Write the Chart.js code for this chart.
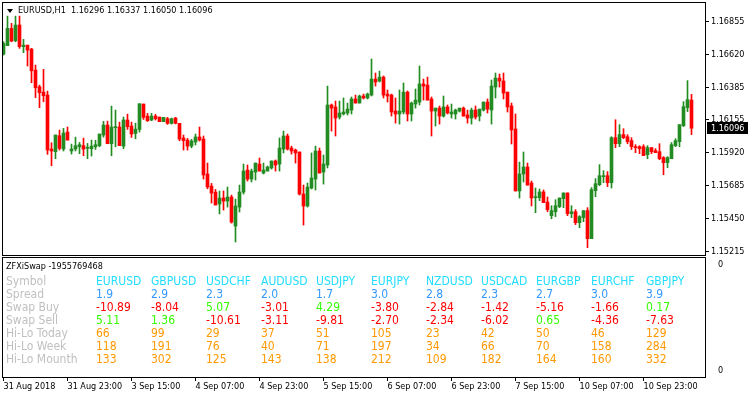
<!DOCTYPE html>
<html>
<head>
<meta charset="utf-8">
<script src="https://cdn.jsdelivr.net/npm/chart.js@4.4.1/dist/chart.umd.min.js"></script>
<style>
  html, body { margin: 0; padding: 0; background: #fff; }
  #wrap { position: relative; width: 748px; height: 398px; overflow: hidden; font-family: "DejaVu Sans Condensed", "DejaVu Sans", sans-serif; }
  canvas { position: absolute; left: 0; }
  #priceChart { top: 0; }
  #subChart { top: 256px; }
  .hdr { position: absolute; font-size: 9px; line-height: 11px; color: #000; white-space: pre; }
  .tri { position: absolute; left: 7px; top: 9px; width: 0; height: 0; border-left: 3px solid transparent; border-right: 3px solid transparent; border-top: 4px solid #000; }
  .cell { position: absolute; font-size: 12px; line-height: 13px; white-space: nowrap; }
</style>
</head>
<body>
<div id="wrap">
  <canvas id="priceChart" width="748" height="258"></canvas>
  <canvas id="subChart" width="748" height="142"></canvas>
  <div class="tri"></div>
  <div class="hdr" id="mainTitle" style="left:18px; top:5px;"></div>
  <div class="hdr" id="subTitle" style="left:6px; top:261px;"></div>
  <div id="table"></div>
</div>
<script>
// EURUSD H1 candles, 31 Aug 07:00 .. 11 Sep 11:00
const opens = [
  1.16624, 1.16684, 1.16807, 1.16719, 1.16831, 1.16677, 1.16688, 1.16660, 1.16510, 1.16391,
  1.16353, 1.16332, 1.15947, 1.15928, 1.16042, 1.15947, 1.16068, 1.15933, 1.15947, 1.15963,
  1.15971, 1.15952, 1.15949, 1.15963, 1.15971, 1.16047, 1.16118, 1.15985, 1.16099, 1.16104,
  1.15968, 1.16154, 1.16111, 1.16058, 1.16087, 1.16268, 1.16182, 1.16154, 1.16182, 1.16175,
  1.16142, 1.16163, 1.16130, 1.16168, 1.16130, 1.16026, 1.16011, 1.15968, 1.15997, 1.16033,
  1.16018, 1.15769, 1.15683, 1.15640, 1.15555, 1.15598, 1.15576, 1.15605, 1.15398, 1.15533,
  1.15640, 1.15797, 1.15733, 1.15783, 1.15840, 1.15776, 1.15790, 1.15812, 1.15862, 1.15840,
  1.15947, 1.16040, 1.15954, 1.15940, 1.15926, 1.15626, 1.15541, 1.15669, 1.15733, 1.15933,
  1.15783, 1.15833, 1.16261, 1.16247, 1.16175, 1.16197, 1.16204, 1.16225, 1.16304, 1.16275,
  1.16325, 1.16311, 1.16332, 1.16446, 1.16432, 1.16460, 1.16339, 1.16332, 1.16218, 1.16197,
  1.16211, 1.16353, 1.16197, 1.16268, 1.16282, 1.16411, 1.16403, 1.16304, 1.16218, 1.16239,
  1.16182, 1.16247, 1.16197, 1.16197, 1.16218, 1.16239, 1.16190, 1.16168, 1.16225, 1.16182,
  1.16225, 1.16282, 1.16225, 1.16389, 1.16453, 1.16432, 1.16353, 1.16254, 1.16090, 1.15648,
  1.15769, 1.15819, 1.15705, 1.15600, 1.15600, 1.15641, 1.15569, 1.15472, 1.15500, 1.15536,
  1.15593, 1.15634, 1.15486, 1.15500, 1.15422, 1.15458, 1.15508, 1.15308, 1.15650, 1.15693,
  1.15750, 1.15757, 1.15707, 1.16028, 1.15985, 1.16050, 1.16035, 1.16007, 1.15964, 1.15964,
  1.15964, 1.15907, 1.15957, 1.15936, 1.15928, 1.15886, 1.15850, 1.15878, 1.15971, 1.16000,
  1.16114, 1.16242, 1.16296
];
const highs = [
  1.16712, 1.16895, 1.16843, 1.16895, 1.16895, 1.16729, 1.16688, 1.16665, 1.16546, 1.16403,
  1.16515, 1.16360, 1.15992, 1.16047, 1.16082, 1.16094, 1.16104, 1.15982, 1.16032, 1.15994,
  1.16025, 1.15987, 1.16011, 1.16009, 1.16054, 1.16144, 1.16146, 1.16253, 1.16225, 1.16139,
  1.16175, 1.16196, 1.16139, 1.16132, 1.16270, 1.16268, 1.16201, 1.16201, 1.16194, 1.16175,
  1.16173, 1.16173, 1.16168, 1.16173, 1.16130, 1.16047, 1.16023, 1.16016, 1.16054, 1.16104,
  1.16040, 1.15847, 1.15702, 1.15659, 1.15648, 1.15648, 1.15676, 1.15619, 1.15590, 1.15690,
  1.15840, 1.15833, 1.15804, 1.15847, 1.15883, 1.15847, 1.15826, 1.15862, 1.15869, 1.16026,
  1.16075, 1.16054, 1.15968, 1.15947, 1.15926, 1.15690, 1.15705, 1.15919, 1.15968, 1.15954,
  1.15904, 1.16396, 1.16268, 1.16289, 1.16289, 1.16311, 1.16275, 1.16318, 1.16332, 1.16332,
  1.16339, 1.16346, 1.16589, 1.16489, 1.16503, 1.16468, 1.16368, 1.16339, 1.16311, 1.16368,
  1.16418, 1.16361, 1.16282, 1.16375, 1.16539, 1.16446, 1.16460, 1.16318, 1.16239, 1.16254,
  1.16325, 1.16261, 1.16268, 1.16232, 1.16239, 1.16247, 1.16225, 1.16239, 1.16254, 1.16232,
  1.16282, 1.16304, 1.16439, 1.16489, 1.16482, 1.16489, 1.16353, 1.16275, 1.16197, 1.15854,
  1.15926, 1.15847, 1.15719, 1.15669, 1.15662, 1.15655, 1.15605, 1.15543, 1.15586, 1.15598,
  1.15634, 1.15634, 1.15543, 1.15515, 1.15472, 1.15508, 1.15529, 1.15672, 1.15736, 1.15836,
  1.15793, 1.15786, 1.16035, 1.16156, 1.16121, 1.16092, 1.16050, 1.16028, 1.15978, 1.15971,
  1.15978, 1.15971, 1.15957, 1.15950, 1.15985, 1.15893, 1.15893, 1.15993, 1.16021, 1.16121,
  1.16285, 1.16435, 1.16337
];
const lows = [
  1.16617, 1.16684, 1.16712, 1.16712, 1.16665, 1.16634, 1.16539, 1.16420, 1.16313, 1.16242,
  1.16284, 1.15909, 1.15828, 1.15878, 1.15940, 1.15933, 1.16011, 1.15911, 1.15933, 1.15914,
  1.15899, 1.15878, 1.15897, 1.15944, 1.15963, 1.16032, 1.15985, 1.15899, 1.15963, 1.15971,
  1.15949, 1.16087, 1.16030, 1.16020, 1.16068, 1.16158, 1.16144, 1.16149, 1.16154, 1.16142,
  1.16142, 1.16123, 1.16125, 1.16127, 1.16006, 1.15940, 1.15940, 1.15956, 1.15976, 1.16004,
  1.15733, 1.15664, 1.15562, 1.15548, 1.15484, 1.15512, 1.15533, 1.15419, 1.15284, 1.15498,
  1.15626, 1.15719, 1.15712, 1.15726, 1.15790, 1.15769, 1.15790, 1.15804, 1.15790, 1.15790,
  1.15919, 1.15940, 1.15911, 1.15847, 1.15619, 1.15405, 1.15533, 1.15662, 1.15655, 1.15776,
  1.15697, 1.15812, 1.16075, 1.16040, 1.16161, 1.16190, 1.16190, 1.16197, 1.16275, 1.16275,
  1.16304, 1.16304, 1.16325, 1.16396, 1.16425, 1.16311, 1.16282, 1.16182, 1.16132, 1.16125,
  1.16197, 1.16147, 1.16147, 1.16239, 1.16261, 1.16296, 1.16296, 1.16040, 1.16111, 1.16125,
  1.16175, 1.16197, 1.16168, 1.16161, 1.16211, 1.16182, 1.16132, 1.16125, 1.16161, 1.16147,
  1.16218, 1.16204, 1.16125, 1.16311, 1.16389, 1.16304, 1.16211, 1.15983, 1.15648, 1.15598,
  1.15712, 1.15690, 1.15541, 1.15493, 1.15579, 1.15565, 1.15500, 1.15450, 1.15465, 1.15529,
  1.15529, 1.15472, 1.15458, 1.15408, 1.15386, 1.15429, 1.15244, 1.15308, 1.15607, 1.15686,
  1.15707, 1.15679, 1.15669, 1.15957, 1.15964, 1.16021, 1.15985, 1.15943, 1.15921, 1.15914,
  1.15900, 1.15878, 1.15914, 1.15921, 1.15871, 1.15764, 1.15814, 1.15878, 1.15964, 1.15964,
  1.16107, 1.16214, 1.16050
];
const closes = [
  1.16700, 1.16807, 1.16717, 1.16831, 1.16677, 1.16688, 1.16653, 1.16505, 1.16384, 1.16349,
  1.16327, 1.15940, 1.15933, 1.16047, 1.15952, 1.16061, 1.16011, 1.15947, 1.15971, 1.15978,
  1.15947, 1.15956, 1.15968, 1.15978, 1.16054, 1.16118, 1.15985, 1.16104, 1.16106, 1.15971,
  1.16154, 1.16106, 1.16054, 1.16089, 1.16270, 1.16173, 1.16149, 1.16182, 1.16163, 1.16142,
  1.16173, 1.16130, 1.16163, 1.16130, 1.16018, 1.16007, 1.15968, 1.16004, 1.16033, 1.16011,
  1.15762, 1.15676, 1.15633, 1.15548, 1.15598, 1.15576, 1.15605, 1.15426, 1.15541, 1.15640,
  1.15790, 1.15733, 1.15790, 1.15847, 1.15790, 1.15797, 1.15819, 1.15862, 1.15833, 1.15954,
  1.16040, 1.15947, 1.15933, 1.15919, 1.15626, 1.15541, 1.15676, 1.15740, 1.15933, 1.15776,
  1.15840, 1.16261, 1.16239, 1.16168, 1.16204, 1.16211, 1.16232, 1.16304, 1.16275, 1.16325,
  1.16311, 1.16339, 1.16446, 1.16425, 1.16460, 1.16332, 1.16325, 1.16211, 1.16197, 1.16218,
  1.16353, 1.16197, 1.16275, 1.16296, 1.16411, 1.16396, 1.16296, 1.16218, 1.16239, 1.16182,
  1.16247, 1.16204, 1.16211, 1.16225, 1.16239, 1.16182, 1.16168, 1.16225, 1.16175, 1.16232,
  1.16282, 1.16232, 1.16396, 1.16453, 1.16432, 1.16346, 1.16247, 1.16083, 1.15648, 1.15769,
  1.15819, 1.15690, 1.15598, 1.15607, 1.15641, 1.15565, 1.15515, 1.15508, 1.15543, 1.15598,
  1.15634, 1.15486, 1.15500, 1.15422, 1.15465, 1.15508, 1.15308, 1.15657, 1.15700, 1.15757,
  1.15757, 1.15707, 1.16028, 1.15985, 1.16050, 1.16028, 1.16000, 1.15964, 1.15957, 1.15950,
  1.15900, 1.15957, 1.15928, 1.15921, 1.15878, 1.15850, 1.15886, 1.15978, 1.16007, 1.16121,
  1.16249, 1.16299, 1.16096
];

// axis labels
const priceTicks = [1.15215, 1.15450, 1.15685, 1.15920, 1.16155, 1.16385, 1.16620, 1.16855];
const timeTickBars = [1, 17, 33, 49, 65, 81, 97, 113, 129, 145, 161];
const timeTickLabels = ['31 Aug 2018', '31 Aug 23:00', '3 Sep 15:00', '4 Sep 07:00', '4 Sep 23:00',
  '5 Sep 15:00', '6 Sep 07:00', '6 Sep 23:00', '7 Sep 15:00', '10 Sep 07:00', '10 Sep 23:00'];

// ZFXiSwap table
const rowNames = ['Symbol', 'Spread', 'Swap Buy', 'Swap Sell', 'Hi-Lo Today', 'Hi-Lo Week', 'Hi-Lo Mounth'];
const symbols = ['EURUSD', 'GBPUSD', 'USDCHF', 'AUDUSD', 'USDJPY', 'EURJPY', 'NZDUSD', 'USDCAD', 'EURGBP', 'EURCHF', 'GBPJPY'];
const spreads = [1.9, 2.9, 2.3, 2.0, 1.7, 3.0, 2.8, 2.3, 2.7, 3.0, 3.9];
const swapBuy = [-10.89, -8.04, 5.07, -3.01, 4.29, -3.80, -2.84, -1.42, -5.16, -1.66, 0.17];
const swapSell = [5.11, 1.36, -10.61, -3.11, -9.81, -2.70, -2.34, -6.02, 0.65, -4.36, -7.63];
const hiLoToday = [66, 99, 29, 37, 51, 105, 23, 42, 50, 46, 129];
const hiLoWeek = [118, 191, 76, 40, 71, 197, 34, 66, 70, 158, 284];
const hiLoMonth = [133, 302, 125, 143, 138, 212, 109, 182, 164, 160, 332];

const FONT = '"DejaVu Sans Condensed", "DejaVu Sans", sans-serif';
const BULL = '#228b22';
const BEAR = '#ff0000';

Chart.defaults.font.family = FONT;
Chart.defaults.color = '#000';

// header texts
const last = closes.length - 1;
document.getElementById('mainTitle').textContent =
  `EURUSD,H1  ${opens[last].toFixed(5)} ${highs[last].toFixed(5)} ${lows[last].toFixed(5)} ${closes[last].toFixed(5)}`;
document.getElementById('subTitle').textContent = 'ZFXiSwap -1955769468';

// table cells
function addCell(text, left, row, color) {
  const d = document.createElement('div');
  d.className = 'cell';
  d.style.left = left + 'px';
  d.style.top = (275 + row * 13) + 'px';
  d.style.color = color;
  d.innerText = text;
  document.getElementById('table').appendChild(d);
}
const swapColor = v => v < 0 ? '#ff0000' : '#33ff00';
rowNames.forEach((name, r) => addCell(name, 6, r, '#c0c0c0'));
symbols.forEach((sym, c) => {
  const left = 96 + c * 55;
  addCell(sym, left, 0, '#22ddff');
  addCell(spreads[c].toFixed(1), left, 1, '#3399ff');
  addCell(swapBuy[c].toFixed(2), left, 2, swapColor(swapBuy[c]));
  addCell(swapSell[c].toFixed(2), left, 3, swapColor(swapSell[c]));
  addCell(String(hiLoToday[c]), left, 4, '#ff9900');
  addCell(String(hiLoWeek[c]), left, 5, '#ff9900');
  addCell(String(hiLoMonth[c]), left, 6, '#ff9900');
});

// candles as floating bars: wick = [low, high], body = [open, close]
const candleColors = closes.map((c, i) => c >= opens[i] ? BULL : BEAR);
const wicks = lows.map((l, i) => ({ x: i + 1, y: [l, highs[i]] }));
const bodies = opens.map((o, i) => ({ x: i + 1, y: [o, closes[i]] }));

const X_MIN = 0.625;
const X_MAX = 176.375;

// no extra room for edge tick labels
const noEdgePad = s => { s.paddingTop = 0; s.paddingBottom = 0; s.paddingLeft = 0; s.paddingRight = 0; };

const framePlugin = {
  id: 'frame',
  afterDraw(chart) {
    const { ctx, chartArea } = chart;
    ctx.save();
    ctx.strokeStyle = '#000';
    ctx.lineWidth = 1;
    ctx.strokeRect(chartArea.left + 0.5, chartArea.top + 0.5,
      chartArea.right - chartArea.left, chartArea.bottom - chartArea.top);
    ctx.restore();
  }
};

const lastPricePlugin = {
  id: 'lastPrice',
  afterDraw(chart) {
    const { ctx, chartArea } = chart;
    const y = Math.round(chart.scales.y.getPixelForValue(closes[last]));
    ctx.save();
    ctx.fillStyle = '#000';
    ctx.fillRect(chartArea.right + 2, y - 6, 41, 12);
    ctx.fillStyle = '#fff';
    ctx.font = '9px ' + FONT;
    ctx.textBaseline = 'middle';
    ctx.fillText(closes[last].toFixed(5), chartArea.right + 6, y + 0.5);
    ctx.restore();
  }
};

new Chart(document.getElementById('priceChart'), {
  type: 'bar',
  data: {
    datasets: [
      { data: wicks, backgroundColor: candleColors, barThickness: 1, grouped: false, order: 2 },
      { data: bodies, backgroundColor: candleColors, barThickness: 3, grouped: false, minBarLength: 1, order: 1 }
    ]
  },
  options: {
    responsive: false,
    animation: false,
    events: [],
    layout: { padding: { left: 2, top: 2, right: 0, bottom: 3 } },
    plugins: { legend: { display: false }, tooltip: { enabled: false } },
    scales: {
      x: { type: 'linear', min: X_MIN, max: X_MAX, offset: false, display: false },
      y: {
        position: 'right',
        min: 1.151915,
        max: 1.169955,
        afterBuildTicks: s => { s.ticks = priceTicks.map(v => ({ value: v })); },
        afterFit: s => { s.width = 43; noEdgePad(s); },
        ticks: { callback: v => v.toFixed(5), font: { size: 9 }, padding: 2 },
        grid: { drawOnChartArea: false, tickLength: 4, color: '#000' },
        border: { display: false }
      }
    }
  },
  plugins: [framePlugin, lastPricePlugin]
});

new Chart(document.getElementById('subChart'), {
  type: 'scatter',
  data: { datasets: [{ data: [] }] },
  options: {
    responsive: false,
    animation: false,
    events: [],
    layout: { padding: { left: 2, top: 1, right: 0, bottom: 0 } },
    plugins: { legend: { display: false }, tooltip: { enabled: false } },
    scales: {
      x: {
        type: 'linear', min: X_MIN, max: X_MAX, offset: false,
        afterBuildTicks: s => { s.ticks = timeTickBars.map(v => ({ value: v })); },
        afterFit: s => { s.height = 21; noEdgePad(s); },
        ticks: {
          callback: v => timeTickLabels[timeTickBars.indexOf(v)],
          align: 'start', autoSkip: false, maxRotation: 0, minRotation: 0,
          font: { size: 9 }, padding: 0
        },
        grid: { drawOnChartArea: false, tickLength: 4, color: '#000' },
        border: { display: false }
      },
      y: {
        position: 'right', min: 0, max: 1,
        afterBuildTicks: s => { s.ticks = [{ value: 0.052 }, { value: 0.939 }]; },
        afterFit: s => { s.width = 43; noEdgePad(s); },
        ticks: { callback: () => '0', font: { size: 9 }, padding: 5 },
        grid: { display: false },
        border: { display: false }
      }
    }
  },
  plugins: [framePlugin]
});
</script>
</body>
</html>
